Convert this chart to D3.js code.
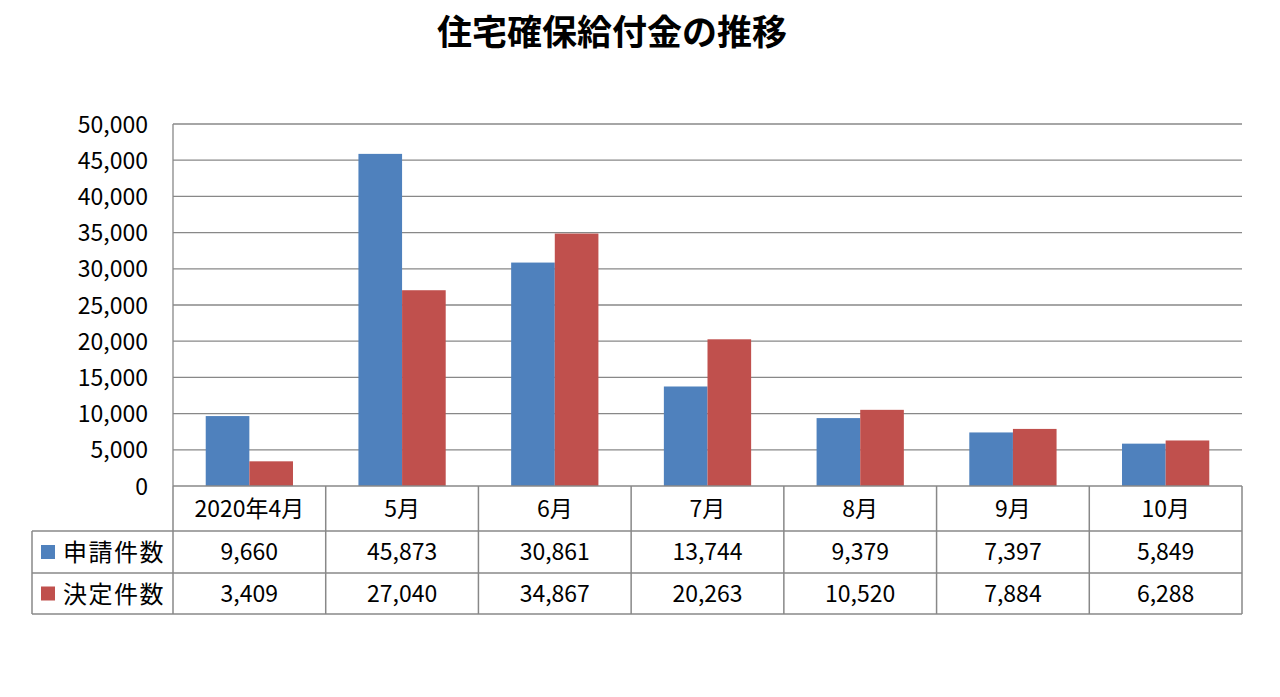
<!DOCTYPE html>
<html><head><meta charset="utf-8">
<script src="https://cdn.jsdelivr.net/npm/d3@7"></script>
<style>body{margin:0;background:#fff;}svg{display:block;}</style>
</head><body>
<script>
const categories = ["2020年4月","5月","6月","7月","8月","9月","10月"];
const seriesNames = ["申請件数","決定件数"];
const applied = [9660,45873,30861,13744,9379,7397,5849];
const decided = [3409,27040,34867,20263,10520,7884,6288];
const yTicks = [0,5000,10000,15000,20000,25000,30000,35000,40000,45000,50000];
const colors = ["#4f81bd","#c0504d"];
const title = "住宅確保給付金の推移";

(function(){
const W=1280,H=697;
const pLeft=173,pRight=1242,pTop=124,pBottom=486;
const rowH=[45,42,41];
const font="'Noto Sans CJK JP','Noto Sans',sans-serif";
const svg=d3.select("body").append("svg").attr("width",W).attr("height",H);

svg.append("text").attr("x",612).attr("y",45).attr("text-anchor","middle")
  .attr("font-family",font).attr("font-weight","bold").attr("font-size",35).text(title);

const x=d3.scaleBand().domain(categories).range([pLeft,pRight]);
const y=d3.scaleLinear().domain([0,50000]).range([pBottom,pTop]);
const data=[applied,decided];

svg.append("g").selectAll("line").data(yTicks.filter(d=>d>0)).join("line")
  .attr("x1",pLeft).attr("x2",pRight).attr("y1",d=>y(d)).attr("y2",d=>y(d))
  .attr("stroke","#888").attr("stroke-width",1.3);

const yAxis=d3.axisLeft(y).tickValues(yTicks).tickFormat(d3.format(",")).tickSize(0).tickPadding(25);
const ga=svg.append("g").attr("transform",`translate(${pLeft},0)`).call(yAxis);
ga.select(".domain").remove();
ga.selectAll("text").attr("font-family",font).attr("font-size",23).attr("fill","#000").attr("dy","0.35em");
svg.append("line").attr("x1",pLeft).attr("x2",pLeft).attr("y1",pTop).attr("y2",pBottom).attr("stroke","#888").attr("stroke-width",1.3);

const bw=x.bandwidth()/3.5;
const xs=d3.scaleBand().domain([0,1]).range([0,2*bw]);
data.forEach((arr,si)=>{
  svg.append("g").selectAll("rect").data(arr).join("rect")
    .attr("x",(d,i)=>x(categories[i])+x.bandwidth()/2-bw+xs(si))
    .attr("width",bw).attr("y",d=>y(d)).attr("height",d=>pBottom-y(d))
    .attr("fill",colors[si]);
});

const rowsY=[pBottom,pBottom+rowH[0],pBottom+rowH[0]+rowH[1],pBottom+rowH[0]+rowH[1]+rowH[2]];
const tableLeft=32;
const tg=svg.append("g").attr("stroke","#888").attr("stroke-width",1.5);
tg.append("line").attr("x1",pLeft).attr("x2",pRight).attr("y1",rowsY[0]).attr("y2",rowsY[0]);
for(let r=1;r<4;r++) tg.append("line").attr("x1",tableLeft).attr("x2",pRight).attr("y1",rowsY[r]).attr("y2",rowsY[r]);
tg.append("line").attr("x1",tableLeft).attr("x2",tableLeft).attr("y1",rowsY[1]).attr("y2",rowsY[3]);
categories.forEach(c=>{
  tg.append("line").attr("x1",x(c)).attr("x2",x(c)).attr("y1",rowsY[0]).attr("y2",rowsY[3]);
});
tg.append("line").attr("x1",pRight).attr("x2",pRight).attr("y1",rowsY[0]).attr("y2",rowsY[3]);

svg.append("g").selectAll("text").data(categories).join("text")
  .attr("x",d=>x(d)+x.bandwidth()/2).attr("y",(rowsY[0]+rowsY[1])/2+8)
  .attr("text-anchor","middle").attr("font-family",font).attr("font-size",23).text(d=>d);

const fmt=d3.format(",");
data.forEach((arr,si)=>{
  const cy=(rowsY[si+1]+rowsY[si+2])/2;
  svg.append("rect").attr("x",41).attr("y",cy-7).attr("width",14).attr("height",14).attr("fill",colors[si]);
  svg.append("text").attr("x",63).attr("y",cy+9).attr("font-family",font).attr("font-size",24)
    .attr("letter-spacing",1.5).text(seriesNames[si]);
  svg.append("g").selectAll("text").data(arr).join("text")
    .attr("x",(d,i)=>x(categories[i])+x.bandwidth()/2).attr("y",cy+8)
    .attr("text-anchor","middle").attr("font-family",font).attr("font-size",23).text(d=>fmt(d));
});
})();
</script>
</body></html>
